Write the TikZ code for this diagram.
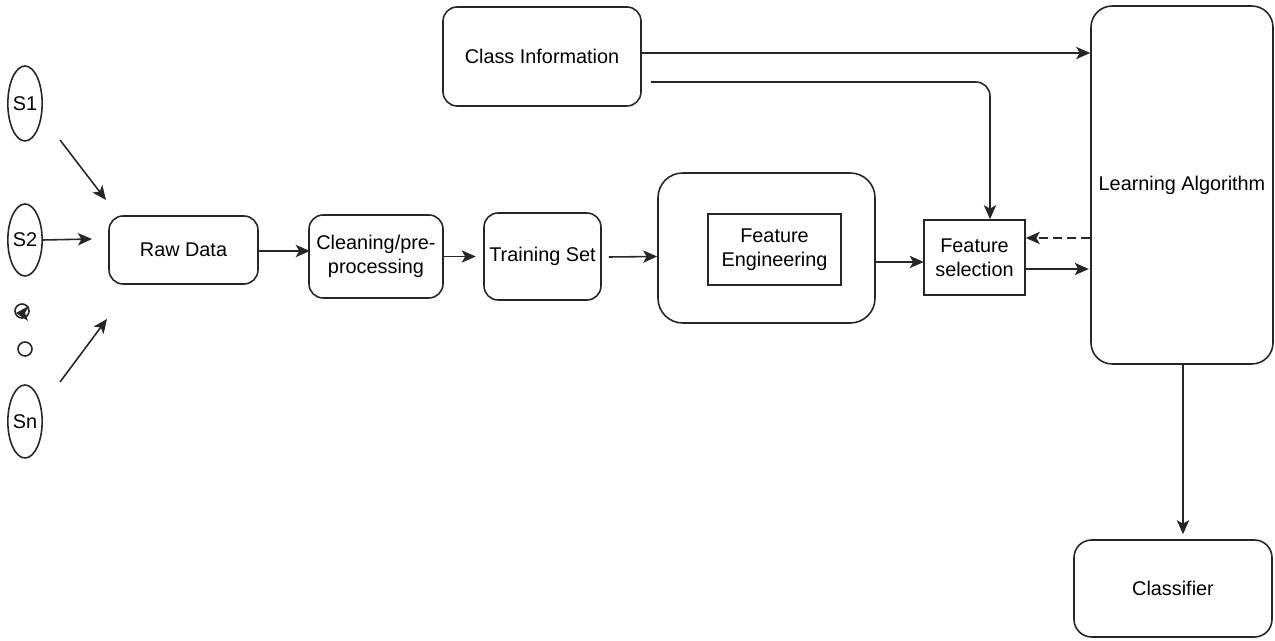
\documentclass[tikz,border=0pt]{standalone}
\usepackage{fontspec}
\setmainfont{Liberation Sans}
\usetikzlibrary{arrows.meta,calc,shapes.geometric}
\begin{document}
\begin{tikzpicture}[x=0.02cm,y=-0.02cm,
  font=\fontsize{11.3}{13.6}\selectfont,
  line width=0.9pt,draw=black!85,
  box/.style={draw,rounded corners=8pt,align=center,inner sep=0pt},
  sqbox/.style={draw,align=center,inner sep=0pt},
  src/.style={draw,ellipse,inner sep=0pt,minimum width=0.56cm},
  arr/.style={-{Stealth[length=8pt,width=7pt,inset=2pt]}},
  dot/.style={draw,circle,inner sep=0pt,minimum size=0.28cm}]
\useasboundingbox (0,0) rectangle (1275,641);
% sources
\node[src,minimum height=1.5cm] (s1) at (25,103.5) {S1};
\node[src,minimum height=1.44cm] (s2) at (25,240) {S2};
\node[src,minimum height=1.46cm] (sn) at (25,421.5) {Sn};
\node[dot] (d1) at (22,311) {};
\node[dot] (d2) at (25,349) {};
% boxes
\node[box,minimum width=2.98cm,minimum height=1.36cm] (raw) at (183.5,250) {Raw Data};
\node[box,minimum width=2.68cm,minimum height=1.66cm] (clean) at (376,256.5) {Cleaning/pre-\\processing};
\node[box,minimum width=2.34cm,minimum height=1.74cm] (train) at (542.5,256.5) {Training Set};
\node[box,rounded corners=14pt,minimum width=4.34cm,minimum height=3.0cm] (feo) at (766.5,248) {};
\node[sqbox,minimum width=2.66cm,minimum height=1.42cm] (fe) at (774.5,249.5) {Feature\\Engineering};
\node[sqbox,minimum width=2.02cm,minimum height=1.5cm] (fs) at (974.5,257.5) {Feature\\selection};
\node[box,minimum width=3.96cm,minimum height=1.98cm] (ci) at (542,56.5) {Class Information};
\node[box,rounded corners=12pt,minimum width=3.64cm,minimum height=7.16cm] (la) at (1182,185) {Learning Algorithm};
\node[box,rounded corners=10pt,minimum width=3.96cm,minimum height=1.94cm] (cl) at (1173,588.5) {Classifier};
% free ends
\coordinate (a1s) at (60,140);
\coordinate (a1e) at (106,200);
\coordinate (a2e) at (92,239);
\coordinate (a3s) at (60,382);
\coordinate (a3e) at (107,319);
% connectors
\draw[arr] (a1s) -- (a1e);
\draw[arr] (s2.east) -- (a2e);
\draw[arr] (a3s) -- (a3e);
\fill[black!85] (16,313) -- (29,306) -- (25,313) -- (28,321) -- cycle;
\draw[arr] ($(raw.east)+(0,1)$) -- ($(raw.east)+(51,1)$);
\draw[arr] (clean.east) -- ($(clean.east)+(32,0)$);
\draw[arr] ($(train.east)+(7,0.5)$) -- (train.east -| feo.west);
\draw[arr] ($(feo.east)+(0,14)$) -- ($(feo.east)+(48,14)$);
\draw[arr] ($(fs.east)+(0,11.5)$) -- ($(fs.east)+(63,11.5)$);
\draw[arr,dashed,dash pattern=on 5pt off 3pt,line width=0.6pt] ($(la.west)+(0,53)$) -- ($(fs.east)+(0,-19.5)$);
\draw[arr] ($(ci.east)+(0,-3.5)$) -- ($(la.west)+(0,-132)$);
\draw[arr,rounded corners=8pt] ($(ci.east)+(9,25.5)$) -- (990,82) -- (fs.north -| 990,0);
\draw[arr] (la.south -| 1183,0) -- ($(cl.north -| 1183,0)+(0,-5)$);
\end{tikzpicture}
\end{document}
